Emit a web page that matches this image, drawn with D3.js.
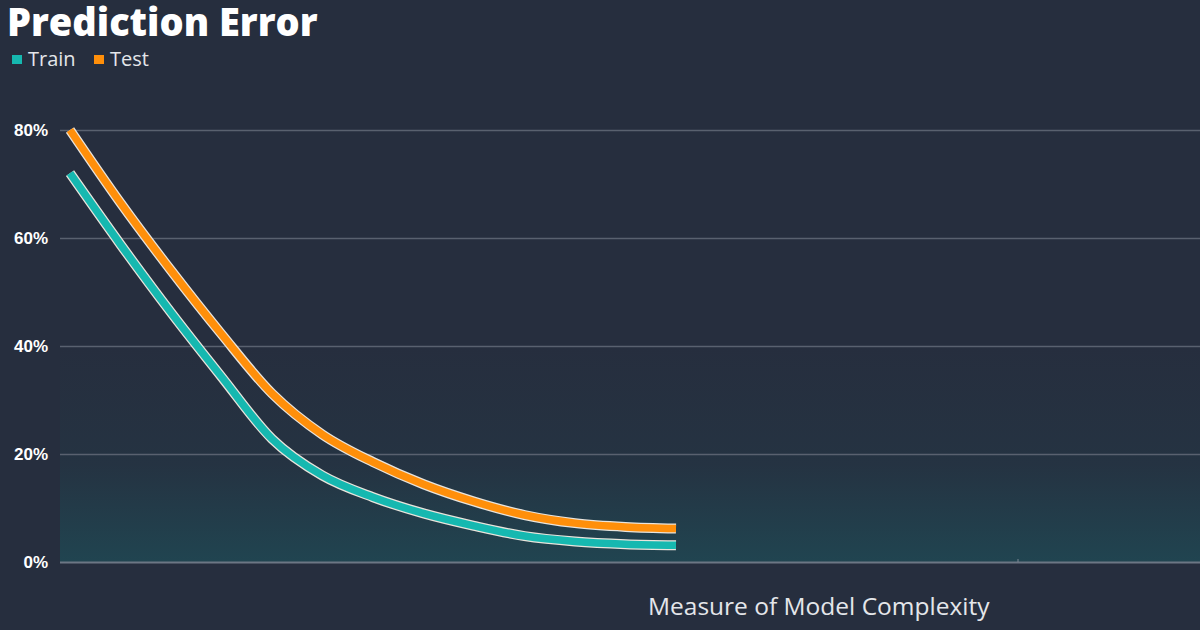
<!DOCTYPE html>
<html>
<head>
<meta charset="utf-8">
<script src="https://cdn.jsdelivr.net/npm/d3@7"></script>
<style>
  html, body { margin: 0; padding: 0; background: #262e3e; }
  svg { display: block; }
</style>
</head>
<body>
<svg id="chart"></svg>
<script>
// model complexity steps and error rates (%)
const complexity = [0, 1, 2, 3, 4, 5, 6, 7, 8, 9, 10, 11, 12]
const trainError = [72, 58.8, 46.2, 34.3, 22.8, 16.0, 12.0, 9.0, 6.7, 4.8, 3.8, 3.3, 3.1]
const testError  = [80, 66.5, 54, 42.2, 31.2, 23.6, 18.5, 14.4, 11.2, 8.7, 7.2, 6.5, 6.2]
const yTicks = [0, 20, 40, 60, 80]
const seriesNames = ['Train', 'Test']
const seriesColors = ['#16b8b0', '#ff8f0a']

function PredictionError(id, width = 1200, height = 630){

    const margin = {top: 130, right: 0, bottom: 68, left: 60},
          bodyWidth = width - margin.left - margin.right,
          bodyHeight = height - margin.top - margin.bottom

    const container = d3.select(`#${id}`)
                        .attr('width', width)
                        .attr('height', height)
                        .style('font-family', '"Open Sans", sans-serif')

    container.append('rect')
             .attr('width', width)
             .attr('height', height)
             .attr('fill', '#262e3e')

    // teal glow towards the baseline
    const defs = container.append('defs')
    const grad = defs.append('linearGradient')
                     .attr('id', 'glow')
                     .attr('x1', 0).attr('y1', 0).attr('x2', 0).attr('y2', 1)
    grad.append('stop').attr('offset', '0%').attr('stop-color', '#1f4a55').attr('stop-opacity', 0)
    grad.append('stop').attr('offset', '55%').attr('stop-color', '#1f4a55').attr('stop-opacity', 0.18)
    grad.append('stop').attr('offset', '100%').attr('stop-color', '#1f4a55').attr('stop-opacity', 0.8)

    const body = container.append('g')
                          .attr('transform', `translate(${margin.left},${margin.top})`)

    const x = d3.scaleLinear()
                .domain([0, 12])
                .range([10, 616])
    const y = d3.scaleLinear()
                .domain([0, 80])
                .range([bodyHeight, 0])

    body.append('rect')
        .attr('x', 0)
        .attr('y', y(40))
        .attr('width', bodyWidth)
        .attr('height', bodyHeight - y(40))
        .attr('fill', 'url(#glow)')

    // gridlines + tick labels
    const yAxis = body.append('g')
                      .call(d3.axisLeft(y)
                              .tickValues(yTicks)
                              .tickSize(-bodyWidth)
                              .tickPadding(12)
                              .tickFormat(d => d + '%'))
    yAxis.select('.domain').remove()
    yAxis.selectAll('.tick line')
         .attr('stroke', d => d === 0 ? '#6c7684' : '#59616f')
         .attr('stroke-width', d => d === 0 ? 2.2 : 1.5)
    yAxis.selectAll('.tick text')
         .attr('fill', '#ffffff')
         .attr('font-size', 17)
         .attr('font-weight', 800)

    // small tick on the baseline
    body.append('line')
        .attr('x1', 958).attr('x2', 958)
        .attr('y1', bodyHeight - 3).attr('y2', bodyHeight)
        .attr('stroke', '#7c8694')
        .attr('stroke-width', 1)

    const line = d3.line()
                   .x((d, i) => x(complexity[i]))
                   .y(d => y(d))
                   .curve(d3.curveMonotoneX)

    const series = [trainError, testError]
    series.forEach((vals, k) => {
        body.append('path')
            .datum(vals)
            .attr('d', line)
            .attr('fill', 'none')
            .attr('stroke', '#e9e4dc')
            .attr('stroke-width', 10)
        body.append('path')
            .datum(vals)
            .attr('d', line)
            .attr('fill', 'none')
            .attr('stroke', seriesColors[k])
            .attr('stroke-width', 7.5)
    })

    // title
    container.append('text')
             .attr('x', 7)
             .attr('y', 36)
             .attr('font-size', 38)
             .attr('font-weight', 800)
             .attr('fill', '#ffffff')
             .text('Prediction Error')

    // legend
    const legendX = [12, 94]
    seriesNames.forEach((name, k) => {
        container.append('rect')
                 .attr('x', legendX[k])
                 .attr('y', 55)
                 .attr('width', 10)
                 .attr('height', 9)
                 .attr('fill', seriesColors[k])
        container.append('text')
                 .attr('x', legendX[k] + 16)
                 .attr('y', 66)
                 .attr('font-size', 20)
                 .attr('fill', '#e4e6ea')
                 .text(name)
    })

    // x axis title
    container.append('text')
             .attr('x', 648)
             .attr('y', 615)
             .attr('font-size', 24.5)
             .attr('fill', '#e4e6ea')
             .text('Measure of Model Complexity')
}

PredictionError('chart')
</script>
</body>
</html>
